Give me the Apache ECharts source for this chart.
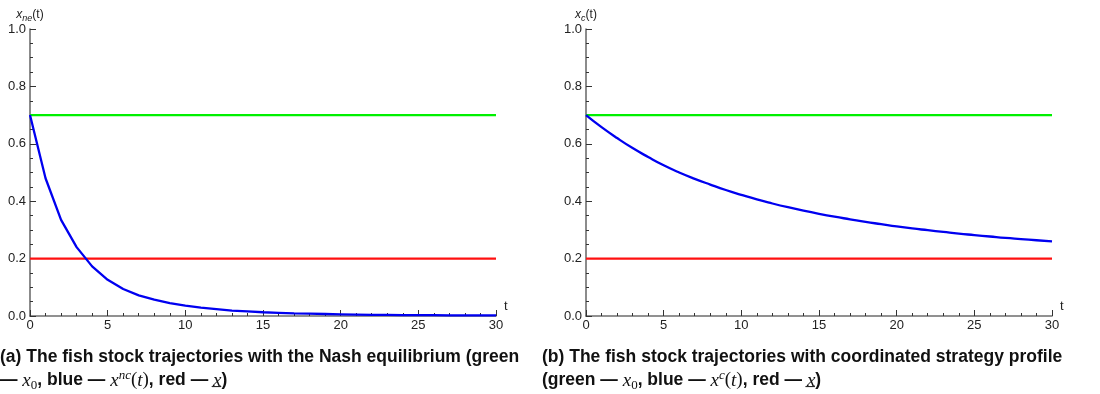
<!DOCTYPE html>
<html>
<head>
<meta charset="utf-8">
<script src="https://cdn.jsdelivr.net/npm/echarts@6/dist/echarts.min.js"></script>
<style>
  html, body { margin: 0; padding: 0; background: #fff; }
  #main { width: 1100px; height: 394px; }
</style>
</head>
<body>
<div id="main"></div>
<script>
// time steps 0..30
var t = [];
for (var i = 0; i <= 30; i++) t.push(i);

// Nash equilibrium trajectory x_ne(t)
var xNash = [0.700, 0.480, 0.335, 0.240, 0.173, 0.126, 0.094, 0.072, 0.057, 0.045,
             0.036, 0.029, 0.024, 0.019, 0.016, 0.013, 0.011, 0.009, 0.008, 0.007,
             0.006, 0.005, 0.004, 0.004, 0.003, 0.003, 0.003, 0.002, 0.002, 0.002, 0.002];
// coordinated trajectory x_c(t)
var xCoord = [0.700, 0.658, 0.620, 0.585, 0.554, 0.525, 0.500, 0.478, 0.458, 0.439,
              0.422, 0.406, 0.392, 0.379, 0.367, 0.356, 0.346, 0.337, 0.328, 0.320,
              0.312, 0.305, 0.299, 0.293, 0.287, 0.282, 0.277, 0.272, 0.268, 0.264, 0.260];
var x0 = 0.7;      // green, initial stock
var xMin = 0.2;    // red, lower bound
var tRange = [0, 30];

function pairs(xs, ys) {
  return xs.map(function (v, k) { return [v, ys[k]]; });
}
function flat(v) {
  return tRange.map(function (tt) { return [tt, v]; });
}

var axisGray = '#6e6e6e';
var labelColor = '#222';

function xAxisOf(idx) {
  return {
    type: 'value', gridIndex: idx, min: 0, max: 30, interval: 5,
    name: 't', nameLocation: 'end', nameGap: 8,
    nameTextStyle: { color: labelColor, fontSize: 13, fontFamily: 'Liberation Sans', verticalAlign: 'bottom', padding: [0, 0, 3, 0] },
    axisLine: { show: true, onZero: false, lineStyle: { color: axisGray, width: 1.6 } },
    axisTick: { show: true, inside: true, length: 6, lineStyle: { color: '#333' } },
    minorTick: { show: true, splitNumber: 5, length: 3, lineStyle: { color: '#333' } },
    splitLine: { show: false },
    axisLabel: { color: labelColor, fontSize: 13, fontFamily: 'Liberation Sans', margin: 3 }
  };
}
function yAxisOf(idx, sub) {
  return {
    type: 'value', gridIndex: idx, min: 0, max: 1, interval: 0.2,
    name: '{i|x}{s|' + sub + '}{n|(t)}', nameLocation: 'end', nameGap: 6,
    nameTextStyle: {
      rich: {
        i: { fontSize: 12, fontStyle: 'italic', fontFamily: 'Liberation Sans', color: labelColor, verticalAlign: 'bottom' },
        s: { fontSize: 9, fontStyle: 'italic', fontFamily: 'Liberation Sans', color: labelColor, verticalAlign: 'bottom', padding: [0, 0, -2, 0] },
        n: { fontSize: 12, fontFamily: 'Liberation Sans', color: labelColor, verticalAlign: 'bottom' }
      }
    },
    axisLine: { show: true, onZero: false, lineStyle: { color: axisGray, width: 1.6 } },
    axisTick: { show: true, inside: true, length: 6, lineStyle: { color: '#333' } },
    minorTick: { show: true, splitNumber: 4, length: 3, lineStyle: { color: '#333' } },
    splitLine: { show: false },
    axisLabel: { color: labelColor, fontSize: 13, fontFamily: 'Liberation Sans', margin: 4,
      formatter: function (v) { return v.toFixed(1); } }
  };
}
function lineSeries(idx, data, color, smooth) {
  return {
    type: 'line', xAxisIndex: idx, yAxisIndex: idx, data: data,
    showSymbol: false, smooth: !!smooth, animation: false, silent: true,
    lineStyle: { color: color, width: 2.3 }
  };
}

var sans = 'Liberation Sans';
var serif = 'Liberation Serif';
var capRich = {
  m: { fontFamily: serif, fontStyle: 'italic', fontSize: 19, fill: '#111' },
  n: { fontFamily: serif, fontSize: 19, fill: '#111' },
  sub: { fontFamily: serif, fontSize: 13, fill: '#111', verticalAlign: 'bottom', padding: [6, 0, 0, 0] },
  sup: { fontFamily: serif, fontStyle: 'italic', fontSize: 13, fill: '#111', verticalAlign: 'top', padding: [0, 0, 8, 0] }
};
function caption(x, text) {
  return {
    type: 'text', left: x, top: 346,
    style: {
      text: text, fill: '#111', fontFamily: sans, fontWeight: 'bold', fontSize: 17.5,
      lineHeight: 23, rich: capRich
    }
  };
}

var myChart = echarts.init(document.getElementById('main'));
var option = {
  backgroundColor: '#fff',
  animation: false,
  grid: [
    { left: 30, right: 604, top: 29, bottom: 78, containLabel: false },
    { left: 586, right: 48, top: 29, bottom: 78, containLabel: false }
  ],
  xAxis: [xAxisOf(0), xAxisOf(1)],
  yAxis: [yAxisOf(0, 'ne'), yAxisOf(1, 'c')],
  series: [
    lineSeries(0, flat(x0), '#00f000'),
    lineSeries(0, flat(xMin), '#ff1010'),
    lineSeries(0, pairs(t, xNash), '#0000f0'),
    lineSeries(1, flat(x0), '#00f000'),
    lineSeries(1, flat(xMin), '#ff1010'),
    lineSeries(1, pairs(t, xCoord), '#0000f0', true)
  ],
  graphic: [
    caption(0, '(a) The fish stock trajectories with the Nash equilibrium (green\n' +
      '— {m|x}{sub|0}, blue — {m|x}{sup|nc}{n|(}{m|t}{n|)}, red — {m|x\u0332})'),
    caption(542, '(b) The fish stock trajectories with coordinated strategy profile\n' +
      '(green — {m|x}{sub|0}, blue — {m|x}{sup|c}{n|(}{m|t}{n|)}, red — {m|x\u0332})')
  ]
};
myChart.setOption(option);
</script>
</body>
</html>
